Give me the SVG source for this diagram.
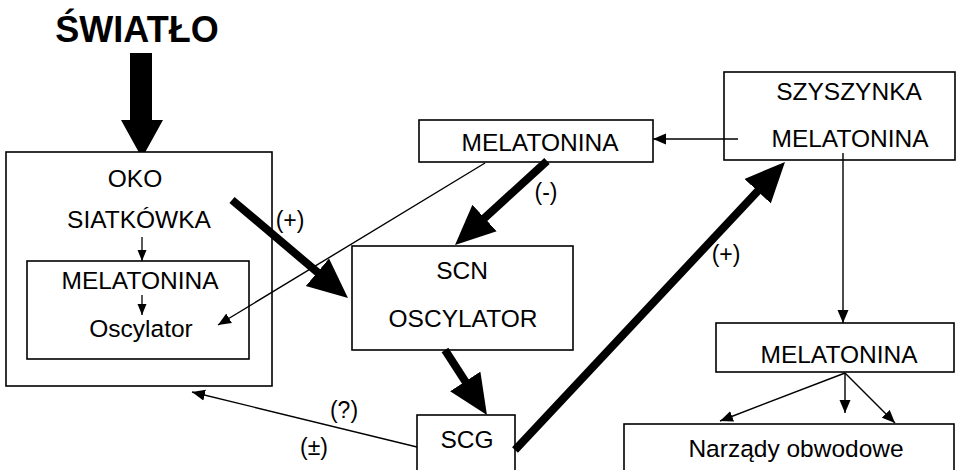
<svg xmlns="http://www.w3.org/2000/svg" width="956" height="470" viewBox="0 0 956 470">
<defs>
<style>
.box{fill:#fff;stroke:#000;stroke-width:1.6}
.t{font-family:"Liberation Sans",Arial,sans-serif;font-size:24.5px;fill:#000;text-anchor:middle}
.lbl{font-family:"Liberation Sans",Arial,sans-serif;font-size:23px;fill:#000;text-anchor:middle}
.thick{stroke:#000;stroke-width:8;fill:none;marker-end:url(#big)}
.thin{stroke:#000;stroke-width:1.4;fill:none;marker-end:url(#small)}
.tiny{stroke:#000;stroke-width:1.3;fill:none;marker-end:url(#tinyh)}
</style>
<marker id="big" markerUnits="userSpaceOnUse" markerWidth="42" markerHeight="38" viewBox="0 -19 42 38" refX="20" refY="0" orient="auto">
<path d="M0,-18 L40,0 L0,18 z" fill="#000"/>
</marker>
<marker id="small" markerUnits="userSpaceOnUse" markerWidth="14" markerHeight="12" viewBox="0 -6 14 12" refX="13" refY="0" orient="auto">
<path d="M0,-5.5 L13,0 L0,5.5 z" fill="#000"/>
</marker>
<marker id="tinyh" markerUnits="userSpaceOnUse" markerWidth="12" markerHeight="10" viewBox="0 -5 12 10" refX="11" refY="0" orient="auto">
<path d="M0,-4.5 L11,0 L0,4.5 z" fill="#000"/>
</marker>
</defs>
<rect width="956" height="470" fill="#fff"/>

<g id="swiatlo">
<text x="137" y="42" font-family="'Liberation Sans',Arial,sans-serif" font-size="36" font-weight="bold" text-anchor="middle">ŚWIATŁO</text>
<path d="M130,53 H152 V120 H163 L142,158 L121,120 H130 Z" fill="#000"/>
</g>

<g id="oko">
<rect class="box" x="6" y="152" width="266" height="234"/>
<text class="t" x="135" y="187">OKO</text>
<text class="t" x="139" y="228">SIATKÓWKA</text>
<g id="oko-inner">
<rect class="box" x="27" y="261" width="222" height="98"/>
<text class="t" x="140" y="289">MELATONINA</text>
<text class="t" x="141" y="337">Oscylator</text>
</g>
<line class="tiny" x1="142" y1="237" x2="142" y2="261"/>
<line class="tiny" x1="142" y1="295" x2="142" y2="315"/>
</g>

<g id="melatonina-top">
<rect class="box" x="419" y="120" width="234" height="42"/>
<text class="t" x="540" y="151">MELATONINA</text>
</g>

<g id="scn">
<rect class="box" x="352" y="246" width="221" height="104"/>
<text class="t" x="462" y="279">SCN</text>
<text class="t" x="463" y="327">OSCYLATOR</text>
</g>

<g id="scg">
<rect class="box" x="417" y="415" width="98" height="70"/>
<text class="t" x="467" y="448">SCG</text>
</g>

<g id="szyszynka">
<rect class="box" x="724" y="72" width="231" height="88"/>
<text class="t" x="849" y="100">SZYSZYNKA</text>
<text class="t" x="850" y="147">MELATONINA</text>
</g>

<g id="melatonina-bottom">
<rect class="box" x="716" y="323" width="238" height="49"/>
<text class="t" x="839" y="363">MELATONINA</text>
</g>

<g id="narzady">
<rect class="box" x="624" y="424" width="330" height="60"/>
<text class="t" x="796" y="457">Narządy obwodowe</text>
</g>

<g id="connectors">
<line class="thick" x1="232" y1="200" x2="332.7" y2="285.1"/>
<line class="thick" x1="547" y1="161" x2="469.8" y2="231.5"/>
<line class="thick" x1="445" y1="350" x2="476.1" y2="398.2"/>
<line class="thick" x1="515" y1="450" x2="771.3" y2="176.6"/>
<line class="thin" x1="738" y1="139" x2="653" y2="139"/>
<line class="thin" x1="485" y1="163" x2="218" y2="325"/>
<line class="thin" x1="417" y1="447" x2="192" y2="392"/>
<line class="thin" x1="843" y1="153" x2="843" y2="323"/>
<line class="thin" x1="845" y1="373" x2="720" y2="421"/>
<line class="thin" x1="845" y1="373" x2="845" y2="413"/>
<line class="thin" x1="845" y1="373" x2="895" y2="423"/>
</g>

<g id="labels">
<text class="lbl" x="290" y="228">(+)</text>
<text class="lbl" x="546" y="200">(-)</text>
<text class="lbl" x="726" y="262">(+)</text>
<text class="lbl" x="344" y="418">(?)</text>
<text class="lbl" x="314" y="455">(±)</text>
</g>
</svg>
